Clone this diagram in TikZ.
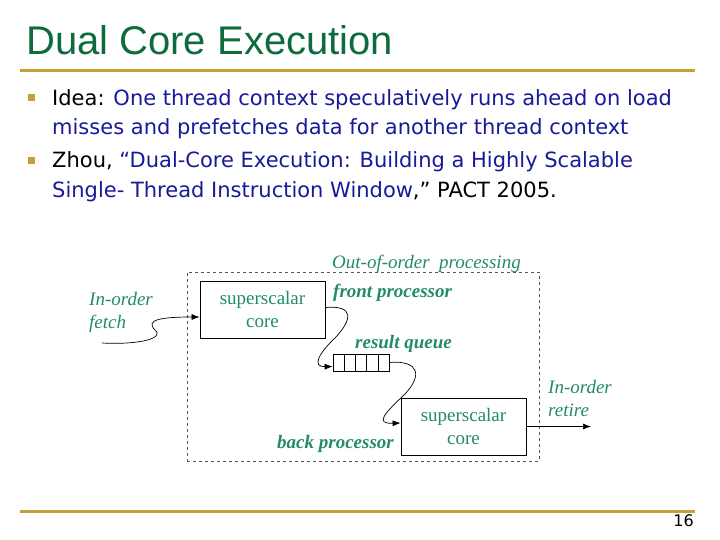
\documentclass[tikz,border=0pt]{standalone}
\usepackage{fontspec}
\setmainfont{Liberation Serif}
\newfontfamily\titlefont{Liberation Sans}
\newfontfamily\bodyfont{DejaVu Sans}
\usetikzlibrary{positioning, arrows.meta}
\usepackage{xcolor}
\definecolor{slgreen}{HTML}{0E6B3E}
\definecolor{slgold}{HTML}{C4A137}
\definecolor{slblue}{HTML}{1A1A99}
\definecolor{dgteal}{HTML}{238C62}
\definecolor{dggray}{HTML}{555555}

\tikzset{
  corebox/.style={draw, line width=0.8pt, minimum width=125pt, minimum height=57pt, text=dgteal, font=\fontsize{19}{23}\selectfont, align=center, inner sep=0pt},
  tag/.style={text=dgteal, font=\fontsize{19}{21}\selectfont\bfseries\itshape, inner sep=0pt, anchor=base west},
  note/.style={text=dgteal, font=\fontsize{19}{23}\selectfont\itshape, align=left, inner sep=0pt, anchor=base west},
  flow/.style={-{Latex[length=8pt,width=6pt]}, line width=0.7pt},
  bullet/.style={fill=slgold, minimum size=7pt, inner sep=0pt},
  body/.style={anchor=base west, inner sep=0pt, align=left, font=\bodyfont\fontsize{21}{29.5}\selectfont},
}

\begin{document}
\begin{tikzpicture}[x=1pt, y=-1pt]
    \useasboundingbox (0,0) rectangle (720,540);
    \fill[white] (0,0) rectangle (720,540);
    % title and rules
    \node[anchor=base west, inner sep=0pt, text=slgreen, font=\titlefont\fontsize{40}{44}\selectfont] (title) at (26,55) {Dual Core Execution};
    \draw[slgold, line width=3pt] (20,71) -- (695,71);
    \draw[slgold, line width=3pt] (20,511) -- (695,511);
    \node[anchor=base east, inner sep=0pt, font=\bodyfont\fontsize{16}{18}\selectfont] (pagenum) at (694,526) {16};
    % bullets (multi-line nodes sit on their last baseline)
    \node[bullet] (b1) at (31,98) {};
    \node[bullet] (b2) at (31,161) {};
    \node[body] (idea) at (52,135) {Idea: \textcolor{slblue}{One thread context speculatively runs ahead on load}\\\textcolor{slblue}{misses and prefetches data for another thread context}};
    \node[body] (cite) at (52,197) {Zhou, \textcolor{slblue}{“Dual-Core Execution: Building a Highly Scalable}\\\textcolor{slblue}{Single- Thread Instruction Window},” PACT 2005.};
    % dual core diagram
    \node[draw=dggray, dashed, line width=0.7pt, minimum width=352pt, minimum height=189pt, inner sep=0pt] (ooo) at (363,366.5) {};
    \node[corebox] (front) at (262.5,309.5) {superscalar\\core};
    \node[corebox] (back) at (463.5,426.5) {superscalar\\core};
    \node[draw, line width=0.7pt, minimum width=56pt, minimum height=17pt, inner sep=0pt] (queue) at (361,362.5) {};
    \foreach \x in {344,355,366,378} {
      \draw[line width=0.7pt] (\x,354) -- (\x,371);
    }
    \node[note] (ooolbl) at (332,268) {Out-of-order\ \ processing};
    \node[tag] (frontlbl) at (333,297) {front processor};
    \node[tag] (queuelbl) at (355,348) {result queue};
    \node[tag] (backlbl) at (277,448) {back processor};
    \node[note] (fetchlbl) at (89,328) {In-order\\fetch};
    \node[note] (retirelbl) at (548,416) {In-order\\retire};
    \coordinate (fetchin) at (102,343);
    \coordinate (retireout) at (591,426.5);
    \draw[flow] (fetchin) .. controls (140,345) and (165,338) .. (155,330) .. controls (145,320) and (160,317) .. ([yshift=-7.5pt]front.west);
    \draw[flow] ([yshift=2pt]front.east) .. controls (355,305) and (352,320) .. (335,338) .. controls (318,354) and (312,367) .. ([yshift=-4pt]queue.west);
    \draw[flow] (queue.east) .. controls (420,360) and (422,376) .. (405,394) .. controls (385,413) and (374,424) .. ([yshift=3.5pt]back.west);
    \draw[flow] (back.east) -- (retireout);
\end{tikzpicture}
\end{document}
